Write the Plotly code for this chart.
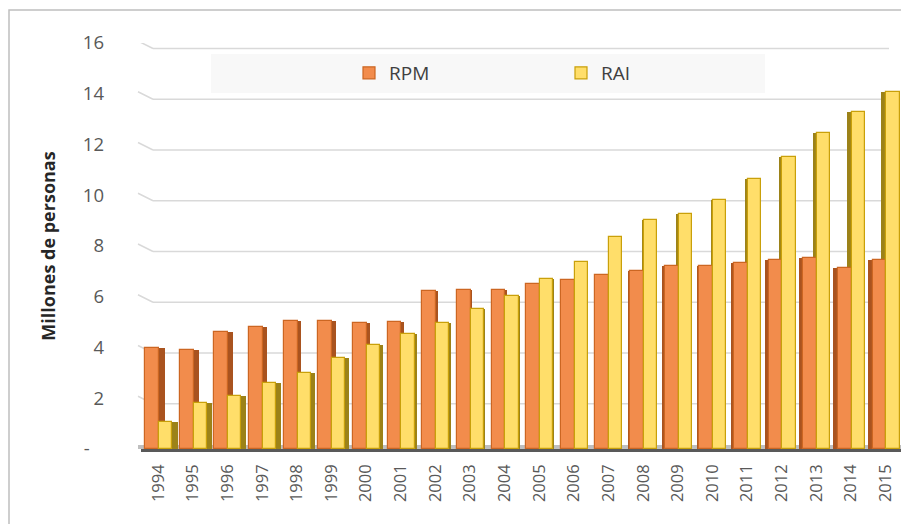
import plotly.graph_objects as go

years = [str(y) for y in range(1994, 2016)]
rpm = [3.97, 3.90, 4.62, 4.82, 5.04, 5.04, 4.95, 4.99, 6.23, 6.27, 6.27, 6.49,
       6.66, 6.86, 7.01, 7.21, 7.21, 7.34, 7.45, 7.52, 7.14, 7.45]
rai = [1.08, 1.80, 2.10, 2.59, 3.01, 3.57, 4.10, 4.52, 4.98, 5.51, 6.04, 6.70,
       7.38, 8.37, 9.04, 9.25, 9.83, 10.64, 11.50, 12.47, 13.29, 14.07]
y_ticks = [0, 2, 4, 6, 8, 10, 12, 14, 16]
y_ticktext = ["-\u00a0\u00a0\u00a0", "2", "4", "6", "8", "10", "12", "14", "16"]

# page body has an 8px margin: figure drawn at (8, 8)
OFF = 8
W, H = 909 - OFF, 524 - OFF
ML, MR, MT, MB = 141 - OFF, 6, 43 - OFF, 75
PW = W - ML - MR
PH = H - MT - MB
unit = PW / len(years)

def px_x(x):  # page pixel x -> paper
    return (x - OFF - ML) / PW

def px_y(y):  # page pixel y -> paper
    return (H - MB - (y - OFF)) / PH

# pseudo-3D side faces (perspective: right side on the left, left side on the right)
rpm_off, rpm_w, rai_off, rai_w = -0.38, 0.40, 0.02, 0.38
side_px = [0.52 * (11.5 - i) for i in range(len(years))]
rs_off, rs_w, ys_off, ys_w = [], [], [], []
for s in side_px:
    w = max(abs(s), 0.3) / unit
    if s >= 0:
        rs_off.append(rpm_off + rpm_w); ys_off.append(rai_off + rai_w)
    else:
        rs_off.append(rpm_off - w); ys_off.append(rai_off - w)
    rs_w.append(w); ys_w.append(w)

fig = go.Figure()
fig.add_bar(x=years, y=rpm, offset=rs_off, width=rs_w, showlegend=False,
            marker=dict(color="#A9531F", line=dict(width=0)), hoverinfo="skip")
fig.add_bar(x=years, y=rai, offset=ys_off, width=ys_w, showlegend=False,
            marker=dict(color="#9C8218", line=dict(width=0)), hoverinfo="skip")
fig.add_bar(x=years, y=rpm, name="RPM", offset=rpm_off, width=rpm_w,
            marker=dict(color="#F28C4C", line=dict(color="#CC6622", width=1.2)))
fig.add_bar(x=years, y=rai, name="RAI", offset=rai_off, width=rai_w,
            marker=dict(color="#FFDE6A", line=dict(color="#C9A00A", width=1.2)))

shapes = []
grid_col = "#D9D9D9"
for v in y_ticks[1:]:
    shapes.append(dict(type="line", xref="paper", yref="y", ysizemode="pixel", yanchor=v,
                       x0=px_x(138), x1=px_x(153), y0=2, y1=-5.5,
                       line=dict(color=grid_col, width=1.5), layer="below"))
    shapes.append(dict(type="line", xref="paper", yref="y", ysizemode="pixel", yanchor=v,
                       x0=px_x(153), x1=px_x(889), y0=-5.5, y1=-5.5,
                       line=dict(color=grid_col, width=1.5), layer="below"))
# floor band
shapes.append(dict(type="rect", xref="paper", yref="y", ysizemode="pixel", yanchor=0,
                   x0=px_x(138), x1=1, y0=0, y1=4, fillcolor="#BFBFBF",
                   line=dict(width=0), layer="below"))
# legend background
shapes.append(dict(type="rect", xref="paper", yref="paper",
                   x0=px_x(211), x1=px_x(765), y0=px_y(93), y1=px_y(54),
                   fillcolor="#F8F8F8", line=dict(width=0), layer="below"))
# chart border
shapes.append(dict(type="rect", xref="paper", yref="paper",
                   x0=px_x(9), x1=px_x(940), y0=px_y(600), y1=px_y(10),
                   fillcolor="rgba(0,0,0,0)", line=dict(color="#BFBFBF", width=1.5)))

fig.update_layout(
    width=W, height=H, autosize=False,
    margin=dict(l=ML, r=MR, t=MT, b=MB, pad=0),
    paper_bgcolor="white", plot_bgcolor="white",
    barmode="overlay", bargap=0,
    font=dict(family="Open Sans", color="#595959", size=17),
    shapes=shapes,
    legend=dict(orientation="h", x=px_x(349), xanchor="left",
                y=px_y(73), yanchor="middle",
                bgcolor="rgba(0,0,0,0)", entrywidth=167, entrywidthmode="pixels",
                font=dict(size=19, color="#404040"), traceorder="normal"),
    xaxis=dict(type="category", tickangle=-90, showgrid=False, showline=True,
               linecolor="#595959", linewidth=2.5, ticks="", range=[-0.5, 21.5],
               tickfont=dict(size=16.5, color="#595959"), ticklabelstandoff=6),
    yaxis=dict(range=[0, 16], tickvals=y_ticks, ticktext=y_ticktext, showgrid=False,
               zeroline=False, showline=False, ticks="", ticklabelstandoff=36,
               tickfont=dict(size=18.5, color="#595959"),
               title=dict(text="<b>Millones de personas</b>", standoff=22,
                          font=dict(size=18, color="#262626"))),
)

fig.write_html("out.html")
